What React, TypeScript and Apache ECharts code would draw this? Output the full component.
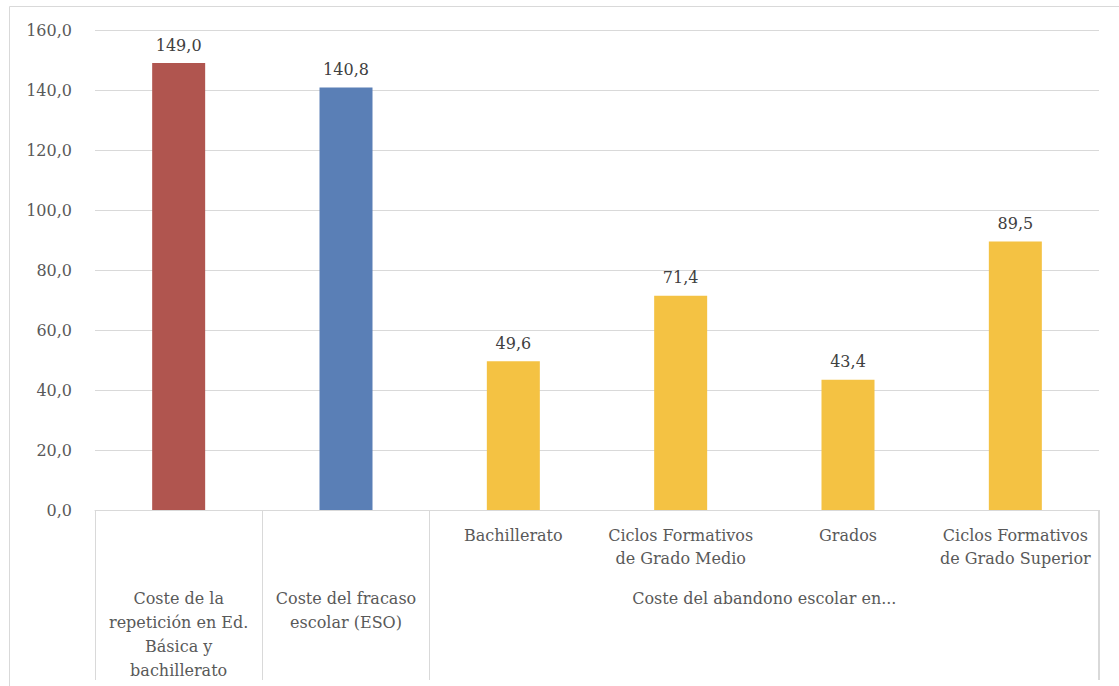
import React, { useEffect, useRef } from "react";
import * as echarts from "echarts";

const categories = [
  "Coste de la repetición",
  "Coste del fracaso escolar",
  "Bachillerato",
  "Ciclos Formativos\nde Grado Medio",
  "Grados",
  "Ciclos Formativos\nde Grado Superior",
];
const subLabels = ["", "", "Bachillerato", "Ciclos Formativos\nde Grado Medio", "Grados", "Ciclos Formativos\nde Grado Superior"];
const values = [149.0, 140.8, 49.6, 71.4, 43.4, 89.5];
const barColors = ["#B0554F", "#5A7FB6", "#F4C243", "#F4C243", "#F4C243", "#F4C243"];
const groupLabels = [
  "Coste de la\nrepetición en Ed.\nBásica y\nbachillerato",
  "Coste del fracaso\nescolar (ESO)",
  "Coste del abandono escolar en...",
];
const groupCenters = [0.5, 1.5, 4];
const groupBounds = [0, 1, 2, 6];
const yTicks = [0, 20, 40, 60, 80, 100, 120, 140, 160];

const FONT = "DejaVu Serif";
const fmt = (v: number) => v.toFixed(1).replace(".", ",");

const W = 1119;
const H = 686;
const GRID = { left: 95, right: 20, top: 30, bottom: 176 };

export default function App() {
  const ref = useRef<HTMLDivElement>(null);
  useEffect(() => {
    if (!ref.current) return;
    const chart = echarts.init(ref.current, undefined, { renderer: "svg" });
    const rightX = W - GRID.right - 1;
    const axisY = H - GRID.bottom;
    chart.setOption({
      animation: false,
      textStyle: { fontFamily: FONT },
      grid: { ...GRID, containLabel: false },
      graphic: [
        {
          type: "rect",
          shape: { x: 9.5, y: 6.5, width: 1200, height: 800 },
          style: { fill: "none", stroke: "#D9D9D9", lineWidth: 1 },
          silent: true,
          z: 0,
        },
        {
          type: "rect",
          x: rightX,
          y: axisY,
          shape: { x: 0, y: 0, width: 1, height: 170 },
          style: { fill: "#D9D9D9" },
          silent: true,
          z: 100,
        },
      ],
      xAxis: [
        {
          type: "category",
          data: categories,
          axisLine: { show: false },
          axisTick: { show: false },
          axisLabel: {
            interval: 0,
            margin: 14,
            color: "#595959",
            fontFamily: FONT,
            fontSize: 16,
            lineHeight: 23,
            formatter: (_v: string, i: number) => subLabels[i],
          },
        },
        {
          type: "value",
          min: 0,
          max: 6,
          position: "bottom",
          splitLine: { show: false },
          axisLine: { show: true, lineStyle: { color: "#D9D9D9", width: 1 } },
          axisTick: {
            show: true,
            customValues: groupBounds,
            length: 170,
            lineStyle: { color: "#D9D9D9", width: 1 },
          },
          axisLabel: {
            show: true,
            customValues: groupCenters,
            margin: 76,
            color: "#595959",
            fontFamily: FONT,
            fontSize: 16,
            lineHeight: 24,
            formatter: (v: number) => {
              const idx = groupCenters.indexOf(v);
              return idx >= 0 ? groupLabels[idx] : "";
            },
          },
        },
      ],
      yAxis: {
        type: "value",
        min: yTicks[0],
        max: yTicks[yTicks.length - 1],
        interval: 20,
        axisLine: { show: false },
        axisTick: { show: false },
        splitLine: { lineStyle: { color: "#D9D9D9", width: 1 } },
        axisLabel: {
          margin: 23,
          color: "#595959",
          fontFamily: FONT,
          fontSize: 16,
          formatter: (v: number) => fmt(v),
        },
      },
      series: [
        {
          type: "bar",
          xAxisIndex: 0,
          barWidth: 53,
          data: values.map((v, i) => ({ value: v, itemStyle: { color: barColors[i] } })),
          label: {
            show: true,
            position: "top",
            distance: 10,
            color: "#404040",
            fontFamily: FONT,
            fontSize: 16,
            formatter: (p: any) => fmt(p.value),
          },
        },
      ],
    });
    return () => chart.dispose();
  }, []);
  return (
    <div
      ref={ref}
      style={{ position: "absolute", left: 0, top: 0, width: W, height: H, background: "#fff" }}
    />
  );
}
